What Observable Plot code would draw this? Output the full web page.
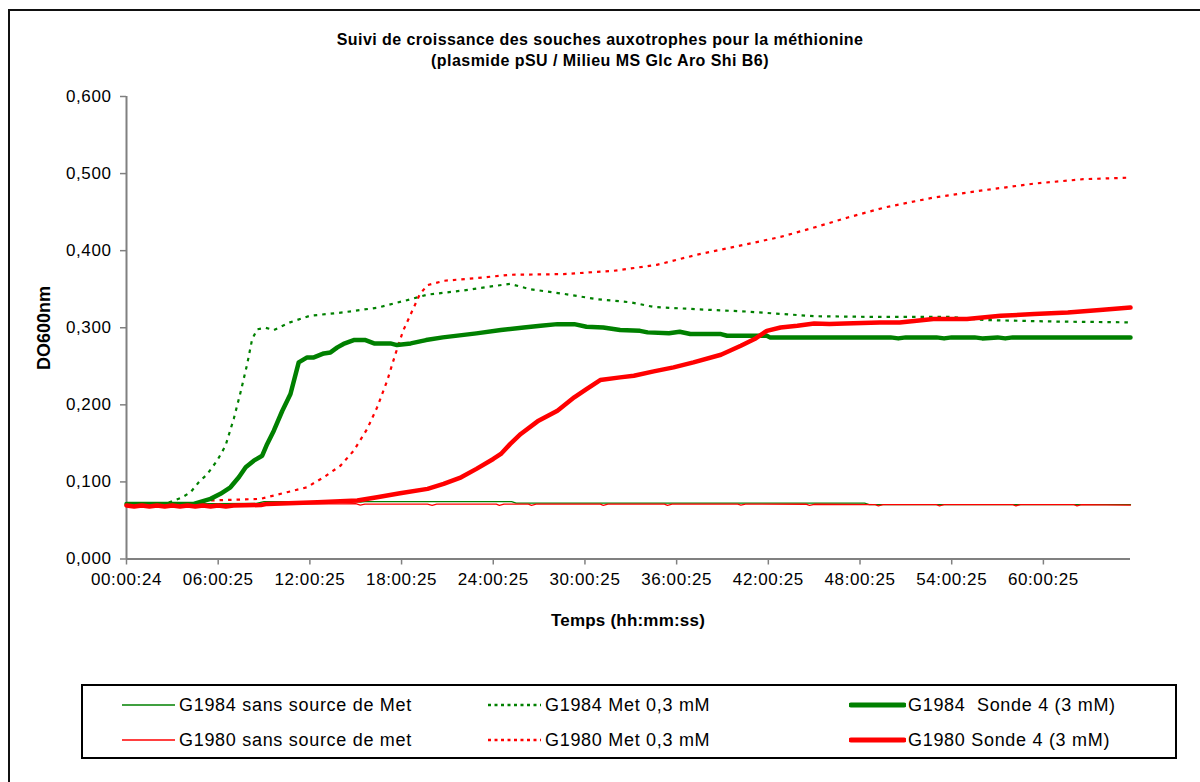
<!DOCTYPE html>
<html>
<head>
<meta charset="utf-8">
<script src="https://cdn.jsdelivr.net/npm/d3@7"></script>
<script src="https://cdn.jsdelivr.net/npm/@observablehq/plot@0.6"></script>
<style>
  html, body { margin: 0; padding: 0; background: #fff; }
  #chart { position: relative; width: 1200px; height: 782px; overflow: hidden; background: #fff;
           font-family: "Liberation Sans", Arial, sans-serif; color: #000; }
  #frame { position: absolute; left: 8px; top: 9px; width: 1400px; height: 1000px;
           border-left: 2px solid #111; border-top: 2px solid #111; box-sizing: border-box; }
  #title { position: absolute; left: 0; top: 29px; width: 1200px; text-align: center;
           font-weight: bold; font-size: 16px; line-height: 21px; letter-spacing: 0.45px; }
  #plot { position: absolute; left: 0; top: 0; }
  #plot svg text { letter-spacing: 0.6px; }
  #ylabel { position: absolute; left: 44px; top: 328px; transform: translate(-50%, -50%) rotate(-90deg);
            font-weight: bold; font-size: 18px; white-space: nowrap; }
  #xlabel { position: absolute; left: 628px; top: 621px; transform: translate(-50%, -50%);
            font-weight: bold; font-size: 17px; white-space: nowrap; letter-spacing: 0.2px; }
  #legend { position: absolute; left: 81px; top: 684px; width: 1096px; height: 75px;
            border: 2px solid #000; box-sizing: border-box; }
  .item { position: absolute; display: flex; align-items: center; height: 30px;
          font-size: 18px; letter-spacing: 0.7px; white-space: nowrap; }
  .item svg { display: block; margin-right: 2px; }
</style>
</head>
<body>
<div id="chart">
  <div id="frame"></div>
  <div id="plot"></div>
  <div id="title">Suivi de croissance des souches auxotrophes pour la méthionine<br>(plasmide pSU / Milieu MS Glc Aro Shi B6)</div>
  <div id="ylabel">DO600nm</div>
  <div id="xlabel">Temps (hh:mm:ss)</div>
  <div id="legend"></div>
</div>
<script>
// ---------- data (time in hours since first reading, DO600nm) ----------
const hourTicks = [0, 6, 12, 18, 24, 30, 36, 42, 48, 54, 60];
const xTickLabels = ["00:00:24", "06:00:25", "12:00:25", "18:00:25", "24:00:25", "30:00:25",
                     "36:00:25", "42:00:25", "48:00:25", "54:00:25", "60:00:25"];
const yTicks = [0, 0.1, 0.2, 0.3, 0.4, 0.5, 0.6];
const yTickLabels = ["0,000", "0,100", "0,200", "0,300", "0,400", "0,500", "0,600"];
const seriesNames = ["G1984 sans source de Met", "G1980 sans source de met",
                     "G1984 Met 0,3 mM", "G1980 Met 0,3 mM",
                     "G1984  Sonde 4 (3 mM)", "G1980 Sonde 4 (3 mM)"];

const g1984Sans = [[0,0.0715],[3,0.0715],[8.5,0.0720],[9,0.0745],[15,0.0745],[15.3,0.0738],[15.6,0.0745],
  [25.2,0.0745],[25.5,0.0725],[48.3,0.0725],[48.6,0.0705],[65.7,0.0705]];

const g1980Sans = [[0,0.0705],[1,0.069],[2,0.0705],[3,0.069],[4,0.0705],[5,0.069],[6,0.0705],[8.8,0.0705],
  [9,0.0715],[14,0.0715],[15,0.0718],[15.3,0.0700],[15.6,0.0712],[19.7,0.0712],[20,0.0697],[20.3,0.0712],
  [24.2,0.0712],[24.4,0.0697],[24.7,0.0712],[26.3,0.0712],[26.5,0.0697],[26.8,0.0712],[31,0.0712],
  [31.2,0.0697],[31.5,0.0712],[35.2,0.0712],[35.4,0.0697],[35.7,0.0712],[40,0.0712],[40.2,0.0698],
  [40.5,0.0712],[44.5,0.0710],[44.7,0.0695],[45,0.0710],[49,0.0705],[49.2,0.0690],[49.5,0.0705],
  [53,0.0705],[53.2,0.0690],[53.5,0.0705],[58,0.0705],[58.2,0.0690],[58.5,0.0705],[62,0.0705],
  [62.2,0.0690],[62.5,0.0705],[65.7,0.0700]];

const g1984Met = [[0,0.0715],[2.5,0.0715],[3.1,0.0758],[3.64,0.080],[4.19,0.0866],[4.73,0.0995],[5.28,0.110],
  [5.93,0.1276],[6.48,0.147],[7.02,0.182],[7.46,0.216],[7.9,0.253],[8.22,0.285],[8.55,0.298],[9.1,0.300],
  [9.64,0.297],[10.7,0.307],[12,0.3155],[14.2,0.320],[16.4,0.326],[18.6,0.337],[19.7,0.343],[21.9,0.348],
  [24,0.354],[25.1,0.357],[26.4,0.350],[28.6,0.344],[30.8,0.337],[33,0.333],[34.5,0.327],[37.3,0.324],
  [40.6,0.321],[42.8,0.318],[45,0.315],[49.3,0.314],[54,0.314],[56.1,0.310],[60.9,0.308],[65.7,0.307]];

const g1980Met = [[0,0.0715],[4.5,0.0715],[5.3,0.0758],[8.77,0.078],[10.5,0.0866],[11.8,0.093],[12.9,0.106],
  [14,0.121],[14.87,0.1406],[15.75,0.1687],[16.4,0.1967],[17.06,0.2313],[17.6,0.266],[18.1,0.296],
  [18.7,0.322],[19.2,0.3437],[19.7,0.3553],[20.8,0.361],[22.9,0.3644],[25.1,0.3687],[28.6,0.3696],
  [31.9,0.3739],[34.7,0.3816],[37.3,0.3946],[40.6,0.4084],[42.8,0.4179],[45,0.430],[47.2,0.443],
  [49.6,0.456],[52.8,0.4689],[56.1,0.4784],[59.4,0.487],[62.6,0.4927],[65.7,0.4948]];

const g1984Sonde = [[0,0.0715],[4.4,0.0715],[5.5,0.078],[6.15,0.0845],[6.8,0.093],[7.35,0.106],[7.8,0.119],
  [8.33,0.1276],[8.88,0.134],[9.2,0.149],[9.64,0.1665],[10.19,0.192],[10.73,0.214],[11.27,0.255],
  [11.82,0.2615],[12.26,0.2615],[12.91,0.2667],[13.35,0.268],[13.8,0.2745],[14.2,0.279],[14.87,0.284],
  [15.64,0.284],[16.2,0.2797],[17.27,0.2797],[17.7,0.2775],[18.6,0.2797],[19.6,0.284],[20.7,0.2875],
  [22.9,0.2927],[24.5,0.297],[26,0.3004],[27.1,0.3026],[28.2,0.3047],[29.3,0.3047],[30.1,0.3013],
  [31.2,0.3004],[32.3,0.297],[33.6,0.296],[34.1,0.294],[35.5,0.293],[36.2,0.2948],[36.9,0.2918],
  [38.9,0.2918],[39.3,0.2896],[41.9,0.2896],[42.1,0.2875],[50,0.2875],[50.5,0.2862],[51,0.2875],
  [53,0.2875],[53.5,0.2862],[54,0.2875],[55.5,0.2875],[56,0.2862],[57,0.2875],[57.5,0.2862],[58,0.2875],
  [65.7,0.2875]];

const g1980Sonde = [[0,0.0695],[0.5,0.068],[1,0.0695],[1.5,0.068],[2,0.0695],[2.5,0.068],[3,0.0695],[3.5,0.068],
  [4,0.0695],[4.5,0.068],[5,0.0695],[5.5,0.068],[6,0.0695],[6.5,0.068],[7,0.0695],[8.8,0.0700],[9.2,0.0715],
  [12.5,0.0736],[15.1,0.0758],[16.4,0.080],[17.9,0.0853],[19.7,0.091],[20.75,0.0974],[21.9,0.106],
  [22.9,0.1169],[24,0.1298],[24.5,0.1363],[25.1,0.149],[25.8,0.1622],[26.9,0.1786],[28.2,0.1924],
  [29.3,0.2097],[30.1,0.2205],[31,0.2322],[32.3,0.2356],[33.2,0.2378],[34.5,0.2434],[35.8,0.2486],
  [37.1,0.255],[38.9,0.265],[40.2,0.2767],[41.1,0.2853],[41.9,0.296],[42.8,0.3004],[43.9,0.3026],
  [45,0.3056],[46,0.3048],[47,0.3056],[49.3,0.3069],[50.6,0.3069],[52.8,0.3113],[55,0.3113],
  [57.2,0.3155],[59.4,0.3177],[61.6,0.3198],[63.7,0.3229],[65.7,0.3263]];

const seriesData = [g1984Sans, g1980Sans, g1984Met, g1980Met, g1984Sonde, g1980Sonde];

// ---------- styles (kept apart from data) ----------
const GREEN = "#008000", RED = "#ff0000";
const styles = [
  {stroke: GREEN, width: 1.3, dash: null},
  {stroke: RED,   width: 1.3, dash: null},
  {stroke: GREEN, width: 2.2, dash: "3.5,5"},
  {stroke: RED,   width: 2.2, dash: "3.5,5"},
  {stroke: GREEN, width: 4.5, dash: null},
  {stroke: RED,   width: 4.5, dash: null}
];

const rows = seriesNames.flatMap((name, i) => seriesData[i].map(([h, v]) => ({series: name, h, v})));

const lineMarks = seriesNames.map((name, i) =>
  Plot.line(rows.filter(r => r.series === name), {
    x: "h", y: "v",
    stroke: styles[i].stroke,
    strokeWidth: styles[i].width,
    strokeDasharray: styles[i].dash,
    strokeLinejoin: "round",
    strokeLinecap: styles[i].dash ? "butt" : "round"
  })
);

const chart = Plot.plot({
  width: 1200,
  height: 640,
  marginLeft: 126,
  marginRight: 70,
  marginTop: 96,
  marginBottom: 81.5,
  style: {fontFamily: '"Liberation Sans", Arial, sans-serif', fontSize: "17px", color: "#000", background: "transparent", overflow: "visible"},
  x: {type: "linear", domain: [0, 65.7]},
  y: {type: "linear", domain: [0, 0.6]},
  marks: [
    Plot.axisX({ticks: hourTicks, tickFormat: d => xTickLabels[hourTicks.indexOf(d)],
                tickSize: 6, tickPadding: 8, stroke: "#808080", strokeWidth: 1.5, fill: "#000", label: null}),
    Plot.axisY({ticks: yTicks, tickFormat: d => yTickLabels[yTicks.indexOf(d)],
                tickSize: 6, tickPadding: 9, stroke: "#808080", strokeWidth: 1.5, fill: "#000", label: null}),
    Plot.ruleX([0], {stroke: "#808080", strokeWidth: 2}),
    Plot.ruleY([0], {stroke: "#808080", strokeWidth: 2}),
    ...lineMarks
  ]
});
document.getElementById("plot").appendChild(chart);

// ---------- legend ----------
const legend = document.getElementById("legend");
const legendPos = [
  {left: 37, top: 4}, {left: 37, top: 39},
  {left: 403, top: 4}, {left: 403, top: 39},
  {left: 766, top: 4}, {left: 766, top: 39}
];
const swatchWidths = [1.5, 1.5, 2.5, 2.5, 5, 5];
seriesNames.forEach((name, i) => {
  const item = document.createElement("div");
  item.className = "item";
  item.style.left = legendPos[i].left + "px";
  item.style.top = legendPos[i].top + "px";
  const ns = "http://www.w3.org/2000/svg";
  const sw = document.createElementNS(ns, "svg");
  sw.setAttribute("width", 57); sw.setAttribute("height", 10);
  const ln = document.createElementNS(ns, "line");
  ln.setAttribute("x1", 2); ln.setAttribute("x2", 55); ln.setAttribute("y1", 5); ln.setAttribute("y2", 5);
  ln.setAttribute("stroke", styles[i].stroke);
  ln.setAttribute("stroke-width", swatchWidths[i]);
  if (styles[i].dash) ln.setAttribute("stroke-dasharray", "3,3.5");
  else if (i >= 4) ln.setAttribute("stroke-linecap", "round");
  sw.appendChild(ln);
  item.appendChild(sw);
  const t = document.createElement("span");
  t.textContent = name;
  t.style.whiteSpace = "pre";
  item.appendChild(t);
  legend.appendChild(item);
});
</script>
</body>
</html>
